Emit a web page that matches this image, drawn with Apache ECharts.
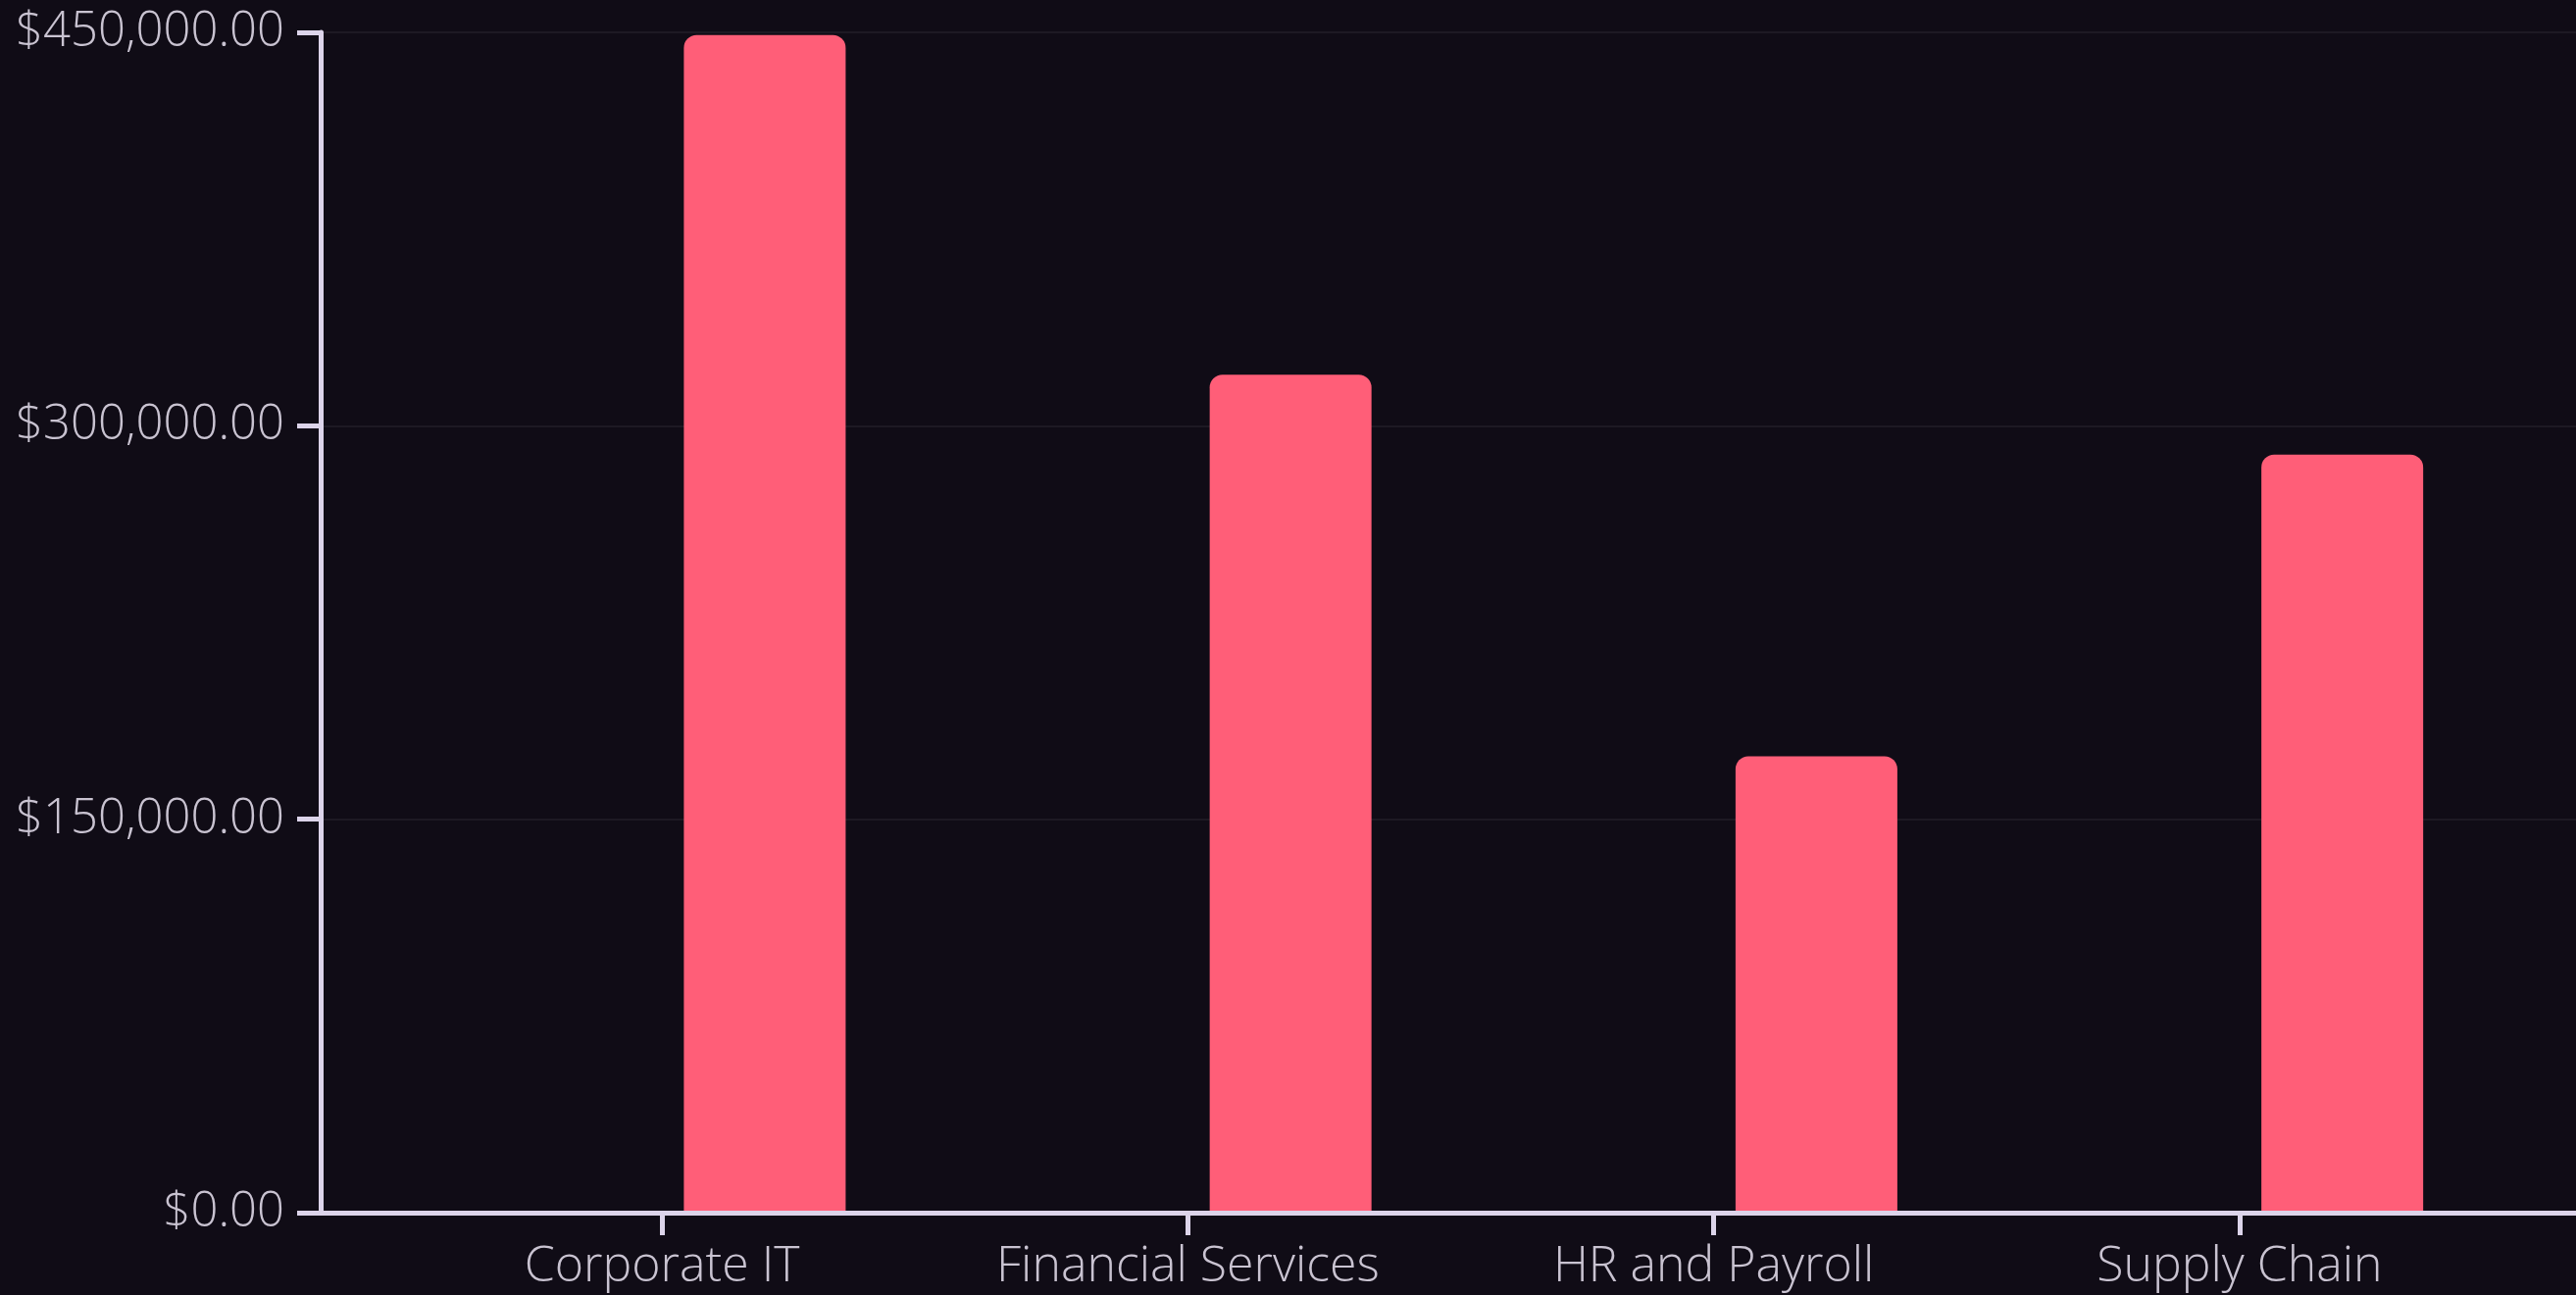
<!DOCTYPE html>
<html>
<head>
<meta charset="utf-8">
<script src="https://cdn.jsdelivr.net/npm/echarts@6/dist/echarts.min.js"></script>
<style>
  html, body { margin: 0; padding: 0; background: #100c16; }
  #chart { width: 2627px; height: 1321px; }
</style>
</head>
<body>
<div id="chart"></div>
<script>
var categories = ['Corporate IT', 'Financial Services', 'HR and Payroll', 'Supply Chain'];
var spend = [449000, 319500, 174000, 289000];
var yTicks = [0, 150000, 300000, 450000];

var axisColor = '#dcd4ea';
var textColor = '#c9c3d1';
var font = '"Open Sans", sans-serif';

var chart = echarts.init(document.getElementById('chart'));

var option = {
    backgroundColor: '#100c16',
    animation: false,
    grid: [
        // bars live here, category bands line up with the ticks
        { left: 407, right: 75, top: 33, bottom: 84 },
        // full width grid for the axis lines and split lines
        { left: 327, right: 0, top: 33, bottom: 84 }
    ],
    xAxis: [
        {
            type: 'category',
            gridIndex: 0,
            data: categories,
            z: 3,
            axisLine: { show: false },
            axisTick: {
                show: true,
                alignWithLabel: true,
                length: 23,
                lineStyle: { color: axisColor, width: 5 }
            },
            axisLabel: {
                color: textColor,
                fontFamily: font,
                fontWeight: 300,
                fontSize: 50,
                margin: 31
            }
        },
        {
            type: 'value',
            gridIndex: 1,
            min: 0,
            max: 1,
            z: 3,
            axisLine: { show: true, lineStyle: { color: axisColor, width: 5 } },
            axisTick: { show: false },
            axisLabel: { show: false },
            splitLine: { show: false }
        }
    ],
    yAxis: [
        {
            type: 'value',
            gridIndex: 0,
            min: yTicks[0],
            max: yTicks[yTicks.length - 1],
            interval: 150000,
            show: false
        },
        {
            type: 'value',
            gridIndex: 1,
            min: yTicks[0],
            max: yTicks[yTicks.length - 1],
            interval: 150000,
            axisLine: { show: true, lineStyle: { color: axisColor, width: 5 } },
            axisTick: { show: true, length: 24, lineStyle: { color: axisColor, width: 5 } },
            axisLabel: {
                color: textColor,
                fontFamily: font,
                fontWeight: 300,
                fontSize: 49,
                margin: 37,
                formatter: function (v) {
                    return '$' + v.toLocaleString('en-US', { minimumFractionDigits: 2, maximumFractionDigits: 2 });
                }
            },
            splitLine: { show: true, lineStyle: { color: '#1d1923', width: 2 } }
        }
    ],
    series: [
        {
            // empty slot, pushes the real bar right of the tick
            type: 'bar',
            xAxisIndex: 0,
            yAxisIndex: 0,
            barWidth: 165,
            barGap: '27%',
            data: categories.map(function () { return null; })
        },
        {
            name: 'Spend',
            type: 'bar',
            xAxisIndex: 0,
            yAxisIndex: 0,
            barWidth: 165,
            barGap: '27%',
            itemStyle: { color: '#ff5e78', borderRadius: [13, 13, 0, 0] },
            data: spend
        }
    ]
};

chart.setOption(option);
</script>
</body>
</html>
